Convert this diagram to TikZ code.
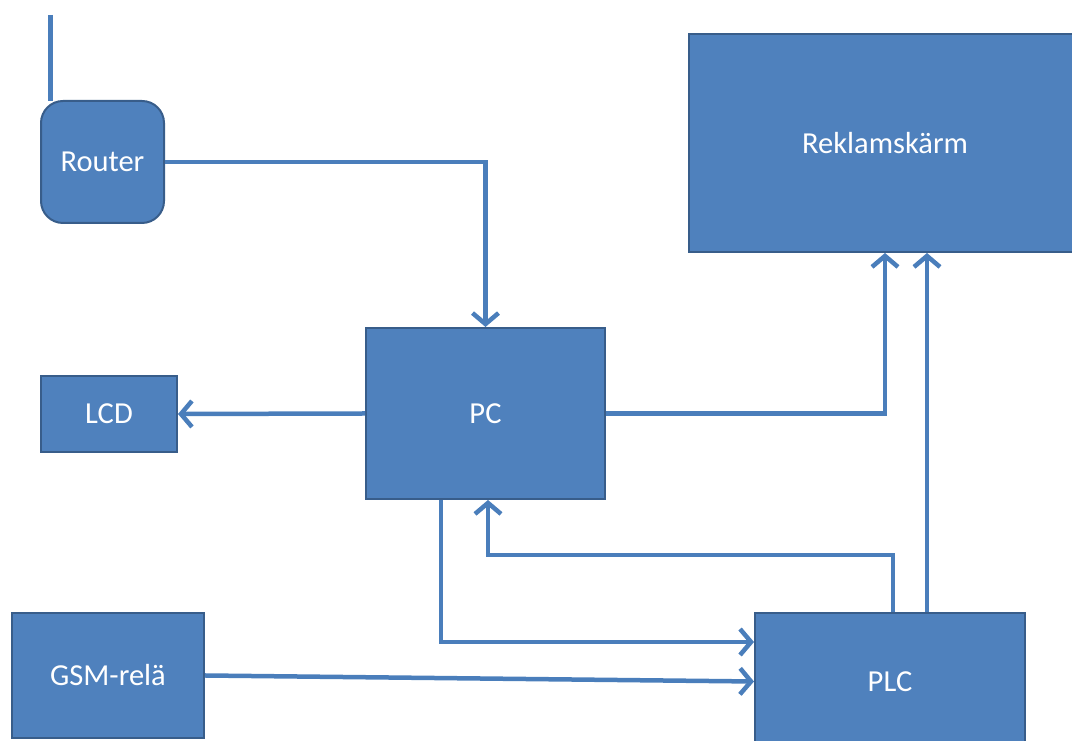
\documentclass[tikz,border=0pt]{standalone}
\usepackage{fontspec}
\setmainfont{Carlito}
\usetikzlibrary{arrows.meta,calc,positioning}
\definecolor{boxfill}{HTML}{4F81BD}
\definecolor{boxline}{HTML}{385D8A}
\definecolor{wirecol}{HTML}{4A7EBB}
\tikzset{
	unit/.style={draw=boxline,fill=boxfill,line width=2pt,text=white,inner sep=0pt,font=\fontsize{30.5}{34}\selectfont},
	wire/.style={draw=wirecol,line width=4.5pt},
	arr/.style={wire,-{Straight Barb[length=11pt,width=26pt]}}
}
\begin{document}
\begin{tikzpicture}[x=1pt,y=1pt]
			\useasboundingbox (0,0) rectangle (1072,741);
			\clip (0,0) rectangle (1072,741);
			\coordinate (antenna) at (50,726);
			\draw[wire,line width=5pt] (antenna) -- (antenna |- 0,640);
			\node[unit,rounded corners=22pt,minimum width=123,minimum height=122] (router) at (102.5,579) {Router};
			\node[unit,minimum width=239,minimum height=171] (pc) at (485.5,327.5) {PC};
			\node[unit,minimum width=136,minimum height=76] (lcd) at (109,327) {LCD};
			\node[unit,minimum width=392,minimum height=218] (rek) at (885,598) {Reklamskärm};
			\node[unit,minimum width=270,minimum height=137] (plc) at (890,59.5) {PLC};
			\node[unit,minimum width=192,minimum height=125] (gsm) at (108,65.5) {GSM-relä};
			
			\draw[arr] (router.east) -| (pc.north);
			\draw[arr] (pc.west) -- (lcd.east);
			\draw[arr] (pc.east) -| (rek.south);
			\draw[arr] ([xshift=-44.5pt]pc.south) |- ([yshift=39.5pt]plc.west);
			\draw[arr] (gsm.east) -- (plc.west);
			\draw[arr] ([xshift=3pt]plc.north) -- ++(0,57) -| ([xshift=2.5pt]pc.south);
			\draw[arr] ([xshift=37pt]plc.north) -- ([xshift=37pt]plc.north |- rek.south);
		\end{tikzpicture}
\end{document}
